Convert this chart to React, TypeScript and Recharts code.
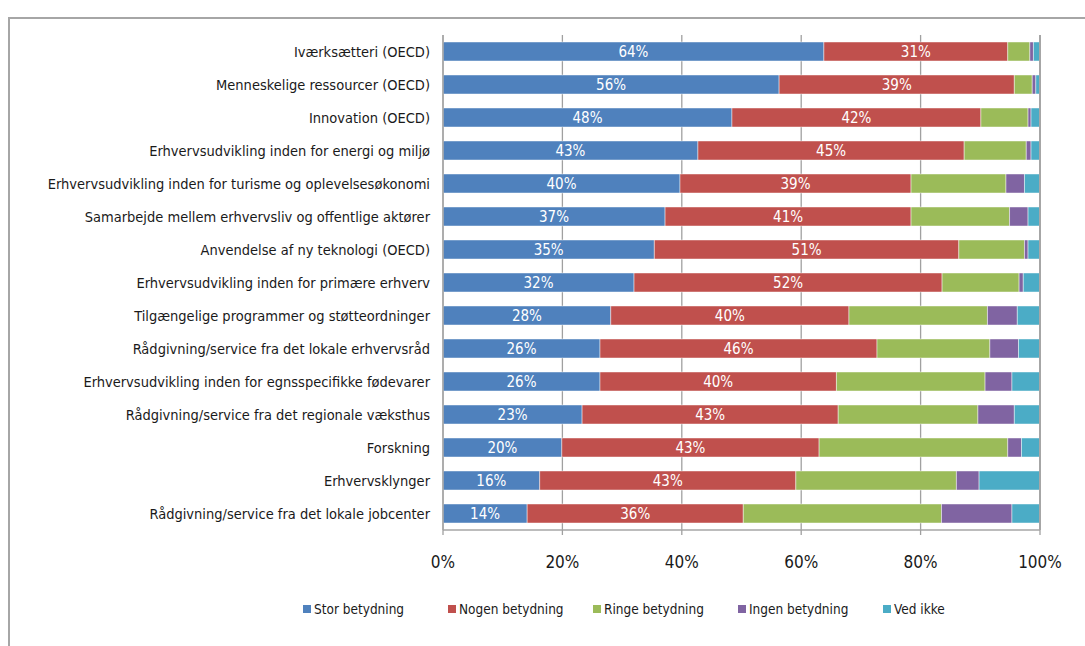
import React from "react";
import { BarChart, Bar, XAxis, YAxis, CartesianGrid, Legend, LabelList, ReferenceLine } from "recharts";

const categories = [
  "Iværksætteri (OECD)",
  "Menneskelige ressourcer (OECD)",
  "Innovation (OECD)",
  "Erhvervsudvikling inden for energi og miljø",
  "Erhvervsudvikling inden for turisme og oplevelsesøkonomi",
  "Samarbejde mellem erhvervsliv og offentlige aktører",
  "Anvendelse af ny teknologi (OECD)",
  "Erhvervsudvikling inden for primære erhverv",
  "Tilgængelige programmer og støtteordninger",
  "Rådgivning/service fra det lokale erhvervsråd",
  "Erhvervsudvikling inden for egnsspecifikke fødevarer",
  "Rådgivning/service fra det regionale væksthus",
  "Forskning",
  "Erhvervsklynger",
  "Rådgivning/service fra det lokale jobcenter",
];

const stor = [63.8, 56.3, 48.4, 42.7, 39.7, 37.2, 35.4, 32.0, 28.1, 26.3, 26.3, 23.3, 19.9, 16.2, 14.1];
const nogen = [30.8, 39.4, 41.7, 44.6, 38.7, 41.2, 51.0, 51.6, 39.9, 46.4, 39.6, 42.9, 43.1, 42.9, 36.2];
const ringe = [3.7, 3.0, 7.9, 10.4, 15.9, 16.5, 11.0, 12.9, 23.2, 18.9, 24.9, 23.4, 31.6, 26.9, 33.2];
const ingen = [0.6, 0.6, 0.5, 0.8, 3.1, 3.1, 0.6, 0.7, 5.0, 4.8, 4.5, 6.1, 2.3, 3.8, 11.8];
const vedIkke = [1.1, 0.7, 1.5, 1.5, 2.6, 2.0, 2.0, 2.8, 3.8, 3.6, 4.7, 4.3, 3.1, 10.2, 4.7];

const xTicks = [0, 20, 40, 60, 80, 100];

const seriesNames = ["Stor betydning", "Nogen betydning", "Ringe betydning", "Ingen betydning", "Ved ikke"];
const seriesKeys = ["stor", "nogen", "ringe", "ingen", "vedIkke"];
const colors = ["#4F81BD", "#C0504D", "#9BBB59", "#8064A2", "#4BACC6"];

const data = categories.map((name, i) => ({
  name,
  stor: stor[i],
  nogen: nogen[i],
  ringe: ringe[i],
  ingen: ingen[i],
  vedIkke: vedIkke[i],
}));

const FONT = "'DejaVu Sans Condensed', 'Liberation Sans Narrow', sans-serif";

const LegendContent = () => (
  <div style={{ display: "flex", fontFamily: FONT, fontSize: 13.5, color: "#1a1a1a" }}>
    {seriesNames.map((n, i) => (
      <div key={n} style={{ display: "flex", alignItems: "center", width: 145, whiteSpace: "nowrap" }}>
        <span style={{ display: "inline-block", width: 8, height: 8, background: colors[i], marginRight: 3 }} />
        <span>{n}</span>
      </div>
    ))}
  </div>
);

export default function App() {
  return (
    <div style={{ position: "absolute", left: 0, top: 0, width: 1085, height: 646, background: "#fff" }}>
      <div
        style={{
          position: "absolute",
          left: 8,
          top: 17,
          width: 1077,
          height: 629,
          borderTop: "2px solid #a6a6a6",
          borderLeft: "2px solid #a6a6a6",
          boxSizing: "border-box",
        }}
      />
      <div style={{ position: "absolute", left: 0, top: 0 }}>
        <BarChart
          width={1085}
          height={646}
          data={data}
          layout="vertical"
          margin={{ top: 35, right: 45, left: 0, bottom: 76 }}
          barSize={19}
        >
          <CartesianGrid horizontal={false} vertical={true} stroke="#a0a0a0" strokeWidth={1.3} />
          <XAxis
            type="number"
            domain={[0, 100]}
            ticks={xTicks}
            tickFormatter={(v) => `${v}%`}
            axisLine={{ stroke: "#a6a6a6", strokeWidth: 1.5 }}
            tickLine={{ stroke: "#a0a0a0", strokeWidth: 1.3 }}
            tickSize={5}
            tickMargin={21}
            height={40}
            interval={0}
            tick={{ fill: "#1a1a1a", fontSize: 17, fontFamily: FONT }}
          />
          <YAxis
            type="category"
            dataKey="name"
            width={443}
            axisLine={{ stroke: "#a6a6a6", strokeWidth: 1.5 }}
            tickLine={false}
            tickMargin={7}
            interval={0}
            tick={{ fill: "#1a1a1a", fontSize: 14.5, fontFamily: FONT }}
          />
          {seriesKeys.map((k, i) => (
            <Bar
              key={k}
              dataKey={k}
              name={seriesNames[i]}
              stackId="a"
              fill={colors[i]}
              stroke="rgba(255,255,255,0.45)"
              strokeWidth={1}
              isAnimationActive={false}
            >
              {i < 2 ? (
                <LabelList
                  dataKey={k}
                  position="center"
                  formatter={(v: any) => `${Math.round(Number(v))}%`}
                  fill="#fff"
                  style={{ fontFamily: FONT, fontSize: 15 }}
                />
              ) : null}
            </Bar>
          ))}
          <ReferenceLine x={100} stroke="#a6a6a6" strokeWidth={2} />
          <Legend
            layout="horizontal"
            verticalAlign="middle"
            align="center"
            content={<LegendContent />}
            wrapperStyle={{ top: 601, left: 303, width: "auto" }}
          />
        </BarChart>
      </div>
    </div>
  );
}
